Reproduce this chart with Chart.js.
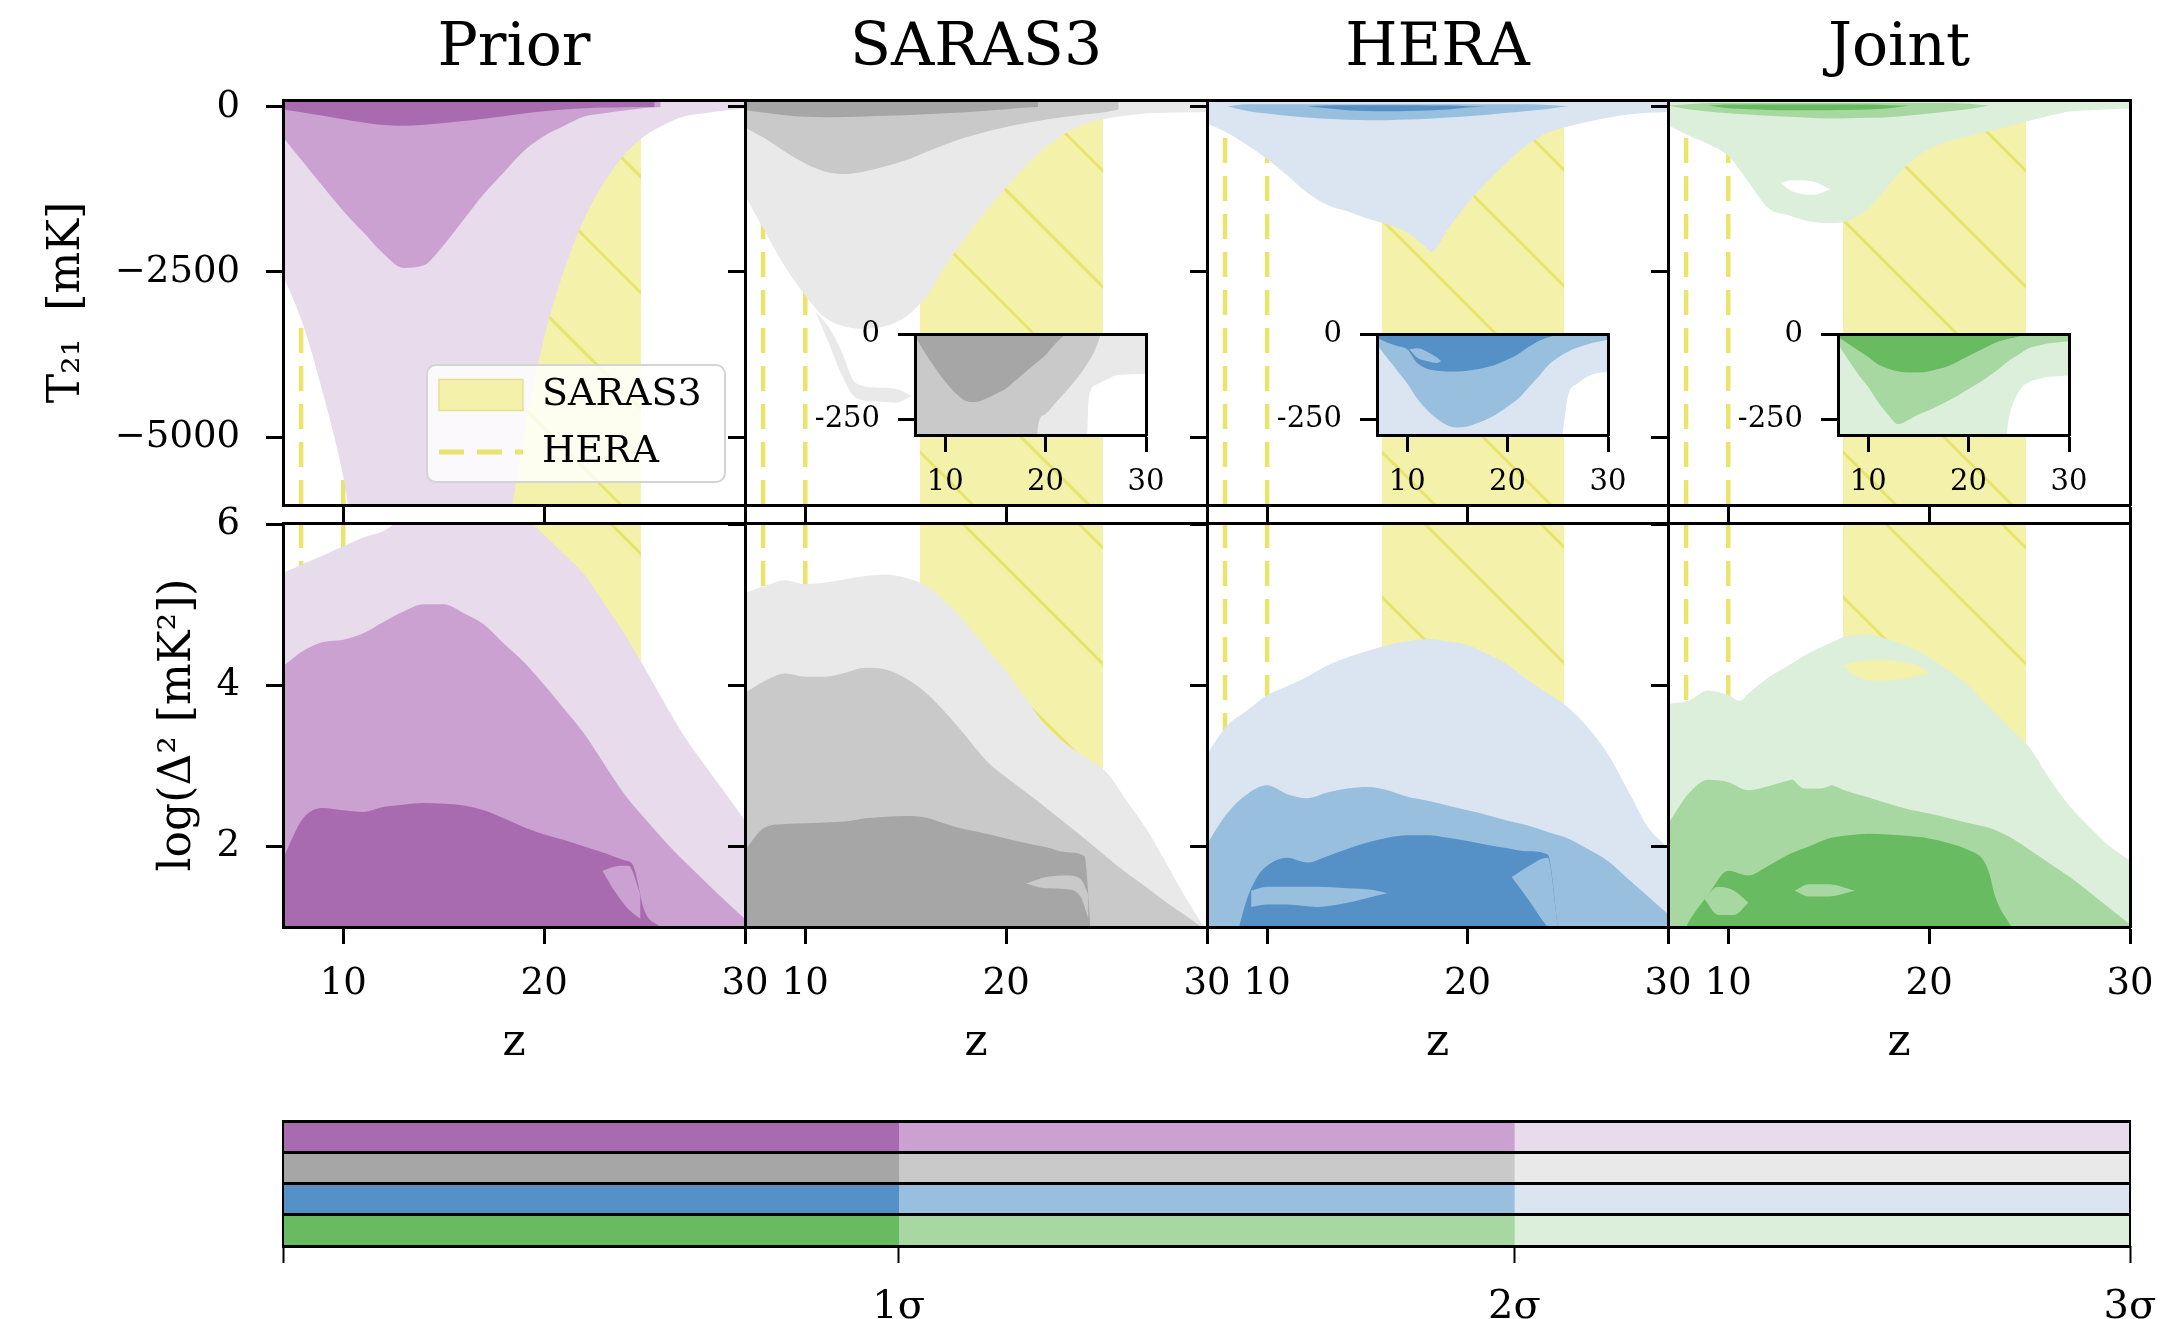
<!DOCTYPE html>
<html>
<head>
<meta charset="utf-8">
<script src="https://cdn.jsdelivr.net/npm/chart.js@4.4.1/dist/chart.umd.min.js"></script>
<style>
  html, body { margin: 0; padding: 0; background: #fff; }
  body { width: 2182px; height: 1319px; position: relative; overflow: hidden; }
  canvas { position: absolute; }
  #legendFrame {
    position: absolute; left: 426px; top: 364px; width: 296px; height: 115px;
    border: 2px solid #d4d4d4; border-radius: 10px; background: rgba(255, 255, 255, 0.82);
  }
</style>
</head>
<body>
<script>
// ---------------- data ----------------
const Z_RANGE = [7, 30];
const Z_TICKS = [10, 20, 30];
const T_RANGE = [-6030, 105];
const T_TICKS = [0, -2500, -5000];
const P_RANGE = [1, 6.02];
const P_TICKS = [2, 4, 6];
const INSET_T_RANGE = [-297, 0];
const INSET_T_TICKS = [0, -250];
const SARAS3_BAND = [15.71, 24.83];
const HERA_Z = [7.9, 10.0];
const PANEL_TITLES = ['Prior', 'SARAS3', 'HERA', 'Joint'];
const SIGMA_TICKS = ['', '1σ', '2σ', '3σ'];
const SIGMA_WIDTH = [1, 1, 1];

// colours: 1σ, 2σ, 3σ
const PRIOR_COLORS = ['#a86bb0', '#caa1d1', '#e8dcec'];
const SARAS3_COLORS = ['#a6a6a6', '#c9c9c9', '#e9e9e9'];
const HERA_COLORS = ['#5590c6', '#98bfde', '#dae5f1'];
const JOINT_COLORS = ['#68bb60', '#a8d8a1', '#dcefdb'];

// T21 contours [z, lower edge] (region runs up to the top of the axis)
const priorT3 = [[7,-2550],[8,-3300],[9,-4350],[10,-5600],[10.5,-6500],[11,-7000],[18,-7000],[18.4,-6100],[19,-4925],[20,-3495],[21,-2470],[22,-1690],[23,-1140],[24,-720],[25,-440],[26,-265],[27,-140],[28,-95],[29,-55],[30,-25]];
const priorT2 = [[7,-460],[8,-835],[9,-1210],[10,-1575],[11,-1900],[12,-2225],[13,-2440],[14,-2400],[15,-2090],[16,-1705],[17,-1320],[18,-990],[19,-665],[20,-440],[21,-285],[22,-145],[23,-95],[24,-55],[25,-15],[25.8,0]];
const priorT1 = [[7,-40],[8,-85],[9,-135],[10,-185],[11,-235],[12,-275],[13,-285],[14,-270],[15,-245],[16,-215],[17,-180],[18,-140],[19,-100],[20,-65],[21,-38],[22,-20],[23,-10],[24,-4],[25.5,0]];

const sarasT3 = [[7,-1340],[8,-1890],[9,-2425],[10,-2855],[11,-3195],[12,-3330],[13,-3360],[14,-3320],[15,-3180],[16,-2880],[17,-2400],[18,-1970],[19,-1570],[20,-1215],[21,-890],[22,-605],[23,-390],[24,-252],[25,-177],[26,-130],[27,-97],[28,-88],[29,-80],[30,-75]];
const sarasT3Tail = [[10.5,-3100,-3100],[11.2,-3350,-3600],[11.8,-3700,-4050],[12.5,-4180,-4400],[13.5,-4250,-4460],[14.5,-4270,-4480],[15.3,-4380,-4380]];
const sarasT2 = [[7,-310],[8,-480],[9,-680],[10,-858],[11,-980],[12,-1015],[13,-975],[14,-900],[15,-808],[16,-685],[17,-565],[18,-460],[19,-375],[20,-303],[21,-245],[22,-190],[23,-150],[24,-110],[25,-75],[25.6,-40]];
const sarasT1 = [[7,-45],[8,-90],[9,-125],[10,-150],[11,-155],[12,-152],[13,-145],[14,-135],[15,-126],[16,-112],[17,-97],[18,-80],[19,-58],[20,-35],[21,-8],[21.6,0]];

const heraT3 = [[7,-252],[8,-390],[9,-575],[10,-790],[11,-1035],[12,-1300],[13,-1485],[14,-1580],[15,-1691],[16,-1780],[17,-1900],[18,-2150],[18.2,-2197],[19,-1860],[20,-1460],[21,-1125],[22,-830],[23,-570],[24,-390],[25,-295],[26,-225],[27,-163],[28,-115],[29,-90],[30,-75]];
// [z, upper, lower]
const heraT2 = [[8,10,10],[9,40,-60],[10,40,-100],[11,40,-135],[12,40,-160],[13,40,-180],[14,40,-195],[15,40,-202],[16,40,-200],[17,40,-192],[18,40,-180],[19,40,-160],[20,40,-140],[21,40,-118],[22,40,-90],[23,40,-60],[24,30,-30],[25,10,10]];
const heraT1 = [[12,10,10],[13,20,-20],[14,25,-50],[15,25,-60],[16,25,-65],[17,25,-62],[18,22,-55],[19,20,-40],[20,10,-10],[21,5,5]];

const jointT3 = [[7,-278],[8,-429],[9,-560],[10,-740],[11,-1136],[12,-1535],[13,-1641],[14,-1730],[15,-1760],[16,-1720],[17,-1530],[18,-1180],[19,-850],[20,-635],[21,-515],[22,-440],[23,-365],[24,-293],[25,-210],[26,-135],[27,-70],[28,-50],[29,-35],[30,-25]];
const jointT3Gap = [[12.6,-1150,-1150],[13.2,-1110,-1280],[14.2,-1130,-1330],[15.1,-1250,-1250]];
const jointT2 = [[7,20,20],[8,40,-35],[9,60,-70],[10,60,-95],[11,60,-115],[12,60,-135],[13,60,-150],[14,60,-165],[15,60,-177],[16,60,-172],[17,60,-165],[18,60,-155],[19,60,-130],[20,60,-100],[21,60,-65],[22,50,-30],[23,20,20]];
const jointT1 = [[9,20,20],[10,36,-20],[11,36,-35],[12,36,-45],[13,36,-50],[14,36,-50],[15,36,-50],[16,36,-48],[17,36,-40],[18,25,-20],[19,20,20]];

// inset T21 contours [z, lower edge]
const sarasI3 = [[7,-400],[24,-400],[24.3,-190],[25,-150],[26,-135],[27,-122],[28,-119],[30,-117]];
const sarasI2 = [[7,-400],[18.9,-400],[19.3,-262],[20,-235],[21,-202],[22,-170],[23,-135],[24,-95],[25,-42],[25.5,0]];
const sarasI1 = [[7,-5],[8,-56],[9,-100],[10,-140],[11,-173],[12,-196],[13,-200],[14,-191],[15,-177],[16,-162],[17,-137],[18,-112],[19,-87],[20,-62],[21,-28],[22,0]];

const heraI3 = [[7,-400],[25,-400],[25.5,-290],[26,-185],[27,-145],[28,-125],[29,-115],[30,-112]];
const heraI2 = [[7,-32],[8,-70],[9,-107],[10,-145],[11,-190],[12,-224],[13,-250],[14,-268],[15,-275],[16,-272],[17,-262],[18,-250],[19,-234],[20,-213],[21,-192],[22,-160],[23,-128],[24,-93],[25,-70],[26,-52],[27,-40],[28,-30],[29,-23],[30,-17]];
const heraI1 = [[7,-12],[8,-25],[9,-35],[10,-45],[11,-85],[12,-102],[13,-108],[14,-110],[15,-110],[16,-108],[17,-104],[18,-97],[19,-88],[20,-75],[21,-60],[22,-40],[23,-22],[24,-10],[25,-3],[26,0]];
const heraI1Gap = [[10.2,-45,-45],[11,-42,-70],[12,-52,-80],[13,-70,-85],[13.4,-80,-80]];

const jointI3 = [[7,-400],[23.3,-400],[24,-250],[25,-170],[26,-142],[27,-132],[28,-126],[29,-124],[30,-122]];
const jointI2 = [[7,-30],[8,-75],[9,-118],[10,-155],[11,-200],[12,-238],[13,-265],[14,-253],[15,-237],[16,-225],[17,-211],[18,-196],[19,-180],[20,-162],[21,-144],[22,-124],[23,-103],[24,-79],[25,-60],[26,-42],[27,-34],[28,-27],[29,-24],[30,-22]];
const jointI1 = [[7,-8],[8,-28],[9,-48],[10,-68],[11,-90],[12,-102],[13,-110],[14,-113],[15,-113],[16,-110],[17,-103],[18,-94],[19,-80],[20,-65],[21,-50],[22,-35],[23,-22],[24,-14],[25,-7],[26,0]];

// power spectrum contours [z, upper edge] (region runs down to the bottom of the axis)
const priorP3 = [[7,5.40],[8,5.51],[9,5.62],[10,5.73],[11,5.84],[12,5.92],[13,6.1],[14,6.3],[15,6.4],[16,6.4],[17,6.35],[18,6.2],[19,6.1],[20,5.87],[21,5.63],[22,5.38],[23,5.01],[24,4.64],[25,4.22],[26,3.78],[27,3.36],[28,3.01],[29,2.67],[30,2.32]];
const priorP2 = [[7,4.24],[8,4.43],[9,4.54],[10,4.57],[11,4.65],[12,4.79],[13,4.92],[14,5.01],[15,5.01],[16,4.9],[17,4.76],[18,4.52],[19,4.29],[20,4.01],[21,3.71],[22,3.40],[23,3.02],[24,2.65],[25,2.35],[26,2.07],[27,1.81],[28,1.57],[29,1.33],[30,1.10]];
const priorP1 = [[7,1.85],[8,2.35],[9,2.48],[10,2.45],[11,2.43],[12,2.49],[13,2.52],[14,2.54],[15,2.53],[16,2.51],[17,2.45],[18,2.35],[19,2.24],[20,2.15],[21,2.08],[22,2.0],[23,1.92],[24,1.83],[24.4,1.78],[25,1.2],[25.8,1.0]];
const priorP1Gap = [[22.9,1.70,1.70],[23.5,1.75,1.45],[24.2,1.76,1.22],[24.8,1.4,1.1]];

const sarasP3 = [[7,5.15],[8,5.24],[9,5.31],[10,5.26],[11,5.28],[12,5.32],[13,5.36],[14,5.38],[15,5.34],[16,5.24],[17,5.04],[18,4.77],[19,4.47],[20,4.18],[21,3.83],[22,3.49],[23,3.27],[24,3.1],[25,2.92],[26,2.57],[27,2.21],[28,1.78],[29,1.34],[30,0.95]];
const sarasP2 = [[7,3.91],[8,4.06],[9,4.15],[10,4.11],[11,4.11],[12,4.16],[13,4.22],[14,4.2],[15,4.09],[16,3.91],[17,3.66],[18,3.37],[19,3.07],[20,2.86],[21,2.67],[22,2.48],[23,2.28],[24,2.08],[25,1.87],[26,1.67],[27,1.49],[28,1.3],[29,1.13],[30,0.95]];
const sarasP1 = [[7,1.96],[8,2.24],[9,2.28],[10,2.29],[11,2.3],[12,2.31],[13,2.35],[14,2.37],[15,2.38],[16,2.36],[17,2.28],[18,2.21],[19,2.16],[20,2.1],[21,2.04],[22,1.99],[23,1.93],[23.9,1.88],[24.2,1.0]];
const sarasP1Gap = [[21.0,1.54,1.54],[22,1.62,1.48],[23,1.64,1.47],[23.7,1.6,1.38],[24.1,1.4,1.1]];

const heraP3 = [[7,3.15],[8,3.5],[9,3.69],[10,3.88],[11,3.99],[12,4.11],[13,4.25],[14,4.35],[15,4.43],[16,4.5],[17,4.55],[18,4.58],[19,4.55],[20,4.5],[21,4.39],[22,4.26],[23,4.07],[24,3.9],[25,3.73],[26,3.48],[27,3.15],[28,2.7],[29,2.24],[30,1.99]];
const heraP2 = [[7,2.03],[8,2.41],[9,2.65],[10,2.76],[11,2.65],[12,2.6],[13,2.67],[14,2.72],[15,2.74],[16,2.7],[17,2.62],[18,2.57],[19,2.51],[20,2.45],[21,2.39],[22,2.32],[23,2.26],[24,2.18],[25,2.1],[26,1.97],[27,1.82],[28,1.6],[29,1.38],[30,1.16]];
const heraP1 = [[8.6,1.0],[9,1.35],[9.5,1.62],[10,1.76],[11,1.86],[12,1.8],[13,1.88],[14,1.97],[15,2.05],[16,2.11],[17,2.14],[18,2.14],[19,2.11],[20,2.07],[21,2.02],[22,1.98],[23,1.94],[24,1.9],[24.5,1.0]];
const heraP1Notch = [[22.2,1.62,1.62],[23,1.75,1.35],[24,1.86,1.0],[24.5,1.0,0.9]];
const heraP1Tongue = [[9.2,1.45,1.25],[10,1.5,1.28],[11,1.5,1.28],[12.5,1.5,1.25],[14,1.48,1.3],[15.3,1.46,1.38],[16,1.42,1.42]];

const jointP3 = [[7,3.77],[8,3.81],[9,3.94],[10,3.88],[10.6,3.81],[11,3.9],[12,4.1],[13,4.25],[14,4.4],[15,4.52],[16,4.62],[17,4.63],[18,4.57],[19,4.48],[20,4.35],[21,4.18],[22,3.99],[23,3.73],[24,3.48],[25,3.23],[26,2.84],[27,2.5],[28,2.24],[29,2.0],[30,1.83]];
const jointP3Gap = [[15.7,4.25,4.25],[16.5,4.3,4.1],[17.5,4.32,4.06],[18.5,4.3,4.08],[19.5,4.24,4.12],[20,4.15,4.15]];
const jointP2 = [[7,2.28],[8,2.65],[9,2.83],[10,2.8],[11,2.7],[12,2.75],[13,2.82],[14,2.86],[15,2.78],[16,2.68],[17,2.61],[18,2.53],[19,2.46],[20,2.41],[21,2.35],[22,2.29],[23,2.23],[24,2.12],[25,1.96],[26,1.79],[27,1.62],[28,1.43],[29,1.23],[30,1.03]];
const jointP2Gap = [[13.1,2.86,2.86],[13.8,2.95,2.72],[14.6,2.93,2.72],[15.3,2.78,2.78]];
const jointP1 = [[7.9,1.0],[8,1.05],[9,1.4],[10,1.7],[11,1.64],[12,1.76],[13,1.9],[14,2.0],[15,2.1],[16,2.14],[17,2.16],[18,2.15],[19,2.13],[20,2.1],[21,2.04],[22,1.95],[22.7,1.83],[23,1.66],[23.3,1.37],[24.1,1.0]];
const jointP1Blob = [[8.8,1.35,1.35],[9.5,1.5,1.15],[10.3,1.45,1.15],[11.0,1.3,1.3]];
const jointP1Oval = [[13.3,1.45,1.45],[14,1.53,1.38],[15,1.53,1.38],[16.3,1.45,1.45]];

// ---------------- style ----------------
const FONT = 'DejaVu Serif';
const INK = '#000';
const BAND_FILL = '#f4f1aa';
const BAND_HATCH = '#e8e36a';
const HERA_DASH = '#ebe46c';

const COL_LEFT = [283, 745, 1207, 1668];
const COL_W = [462, 462, 461, 462];
const ROW_TOP = [100, 523];
const ROW_H = [405, 404];

function hatchPattern() {
  const s = 116;
  const c = document.createElement('canvas');
  c.width = c.height = s;
  const g = c.getContext('2d');
  g.fillStyle = BAND_FILL;
  g.fillRect(0, 0, s, s);
  g.strokeStyle = BAND_HATCH;
  g.lineWidth = 3;
  for (const off of [-s, 0, s]) {
    g.beginPath();
    g.moveTo(off - 2, -2);
    g.lineTo(off + s + 2, s + 2);
    g.stroke();
  }
  return g.createPattern(c, 'repeat');
}
const HATCH = hatchPattern();

function xy(list) { return list.map(([x, y]) => ({ x, y })); }

// one contour level -> datasets
function region(kind, list, color, order) {
  const base = { borderWidth: 0, pointRadius: 0, backgroundColor: color, order, cubicInterpolationMode: 'monotone' };
  if (kind === 'between') {
    return [
      { ...base, data: list.map(([x, u]) => ({ x, y: u })), fill: '+1' },
      { ...base, data: list.map(([x, , l]) => ({ x, y: l })), fill: false }
    ];
  }
  return [{ ...base, data: xy(list), fill: kind === 'top' ? 'end' : 'start' }];
}

function backdrop(yr) {
  const sets = [{
    data: [{ x: SARAS3_BAND[0], y: yr[1] }, { x: SARAS3_BAND[1], y: yr[1] }],
    fill: 'start', backgroundColor: HATCH, borderWidth: 0, pointRadius: 0, order: 100
  }];
  HERA_Z.forEach(z => sets.push({
    data: [{ x: z, y: yr[1] }, { x: z, y: yr[0] }],
    fill: false, borderColor: HERA_DASH, borderWidth: 4.5, borderDash: [25, 13],
    borderCapStyle: 'butt', pointRadius: 0, order: 90
  }));
  return sets;
}

function fixSize(prop, val) {
  return s => {
    s[prop] = val;
    s.paddingTop = s.paddingBottom = s.paddingLeft = s.paddingRight = 0;
  };
}

const whiteArea = {
  id: 'whiteArea',
  beforeDatasetsDraw(chart) {
    const { ctx, chartArea: a } = chart;
    ctx.save();
    ctx.fillStyle = '#fff';
    ctx.fillRect(a.left, a.top, a.right - a.left, a.bottom - a.top);
    ctx.restore();
  }
};

function makeCanvas(left, top, width, height) {
  const c = document.createElement('canvas');
  c.width = width; c.height = height;
  c.style.left = left + 'px'; c.style.top = top + 'px';
  c.style.width = width + 'px'; c.style.height = height + 'px';
  document.body.appendChild(c);
  return c;
}

function plotPanel(p) {
  const { area, m } = p;
  const cv = makeCanvas(area.left - m.l, area.top - m.t, m.l + area.w + m.r, m.t + area.h + m.b);
  const tickFont = { family: FONT, size: p.tickSize };
  return new Chart(cv, {
    type: 'line',
    data: { datasets: p.datasets },
    options: {
      responsive: false, animation: false, events: [], devicePixelRatio: 1,
      layout: { padding: 0, autoPadding: false },
      plugins: { legend: { display: false }, tooltip: { enabled: false } },
      scales: {
        x: {
          type: 'linear', position: 'bottom', min: Z_RANGE[0], max: Z_RANGE[1],
          afterBuildTicks: s => { s.ticks = Z_TICKS.map(v => ({ value: v })); },
          afterFit: fixSize('height', m.b),
          ticks: { display: p.xLabels, color: INK, font: tickFont, padding: p.xPad, maxRotation: 0, autoSkip: false },
          grid: { display: true, drawOnChartArea: false, drawTicks: true, tickLength: 17, tickWidth: 3, tickColor: INK },
          border: { display: true, color: INK, width: 3, z: 1 },
          title: { display: !!p.xTitle, text: p.xTitle || '', color: INK, font: { family: FONT, size: 44 }, padding: { top: 0, bottom: 17 } }
        },
        xTop: {
          type: 'linear', position: 'top', min: Z_RANGE[0], max: Z_RANGE[1],
          afterFit: fixSize('height', m.t),
          ticks: { display: false }, grid: { display: false },
          border: { display: true, color: INK, width: 3, z: 1 },
          title: { display: !!p.title, text: p.title || '', color: INK, font: { family: FONT, size: 60 }, padding: { top: 13, bottom: 0 } }
        },
        y: {
          type: 'linear', position: 'left', min: p.yr[0], max: p.yr[1],
          afterBuildTicks: s => { s.ticks = p.yTicks.map(v => ({ value: v })); },
          afterFit: fixSize('width', m.l),
          ticks: { display: p.yLabels, color: INK, font: tickFont, padding: p.yPad, callback: p.yFmt },
          grid: { display: true, drawOnChartArea: false, drawTicks: true, tickLength: 17, tickWidth: 3, tickColor: INK },
          border: { display: true, color: INK, width: 3, z: 1 },
          title: { display: !!p.yTitle, text: p.yTitle || '', color: INK, font: { family: FONT, size: 44 }, padding: { top: p.yTitlePad || 0, bottom: 0 } }
        },
        yRight: {
          type: 'linear', position: 'right',
          afterFit: fixSize('width', m.r),
          ticks: { display: false }, grid: { display: false },
          border: { display: true, color: INK, width: 3, z: 1 }
        }
      }
    },
    plugins: p.white ? [whiteArea] : []
  });
}

const minusFmt = v => (v < 0 ? '\u2212' + Math.abs(v) : String(v));
const hyphenFmt = v => String(v);

// ---------------- panels ----------------
const topLayers = [
  [region('top', priorT3, PRIOR_COLORS[2], 30), region('top', priorT2, PRIOR_COLORS[1], 20), region('top', priorT1, PRIOR_COLORS[0], 10)],
  [region('top', sarasT3, SARAS3_COLORS[2], 30), region('between', sarasT3Tail, SARAS3_COLORS[2], 30),
   region('top', sarasT2, SARAS3_COLORS[1], 20), region('top', sarasT1, SARAS3_COLORS[0], 10)],
  [region('top', heraT3, HERA_COLORS[2], 30), region('between', heraT2, HERA_COLORS[1], 20), region('between', heraT1, HERA_COLORS[0], 10)],
  [region('top', jointT3, JOINT_COLORS[2], 30), region('between', jointT3Gap, '#ffffff', 25),
   region('between', jointT2, JOINT_COLORS[1], 20), region('between', jointT1, JOINT_COLORS[0], 10)]
];
const bottomLayers = [
  [region('bottom', priorP3, PRIOR_COLORS[2], 30), region('bottom', priorP2, PRIOR_COLORS[1], 20),
   region('bottom', priorP1, PRIOR_COLORS[0], 10), region('between', priorP1Gap, PRIOR_COLORS[1], 5)],
  [region('bottom', sarasP3, SARAS3_COLORS[2], 30), region('bottom', sarasP2, SARAS3_COLORS[1], 20),
   region('bottom', sarasP1, SARAS3_COLORS[0], 10), region('between', sarasP1Gap, SARAS3_COLORS[1], 5)],
  [region('bottom', heraP3, HERA_COLORS[2], 30), region('bottom', heraP2, HERA_COLORS[1], 20),
   region('bottom', heraP1, HERA_COLORS[0], 10), region('between', heraP1Notch, HERA_COLORS[1], 5),
   region('between', heraP1Tongue, HERA_COLORS[1], 5)],
  [region('bottom', jointP3, JOINT_COLORS[2], 30), region('between', jointP3Gap, BAND_FILL, 25),
   region('bottom', jointP2, JOINT_COLORS[1], 20), region('between', jointP2Gap, JOINT_COLORS[2], 15),
   region('bottom', jointP1, JOINT_COLORS[0], 10), region('between', jointP1Blob, JOINT_COLORS[1], 5),
   region('between', jointP1Oval, JOINT_COLORS[1], 5)]
];
const insetLayers = [
  null,
  [region('top', sarasI3, SARAS3_COLORS[2], 30), region('top', sarasI2, SARAS3_COLORS[1], 20), region('top', sarasI1, SARAS3_COLORS[0], 10)],
  [region('top', heraI3, HERA_COLORS[2], 30), region('top', heraI2, HERA_COLORS[1], 20), region('top', heraI1, HERA_COLORS[0], 10),
   region('between', heraI1Gap, HERA_COLORS[1], 5)],
  [region('top', jointI3, JOINT_COLORS[2], 30), region('top', jointI2, JOINT_COLORS[1], 20), region('top', jointI1, JOINT_COLORS[0], 10)]
];

for (let k = 0; k < 4; k++) {
  plotPanel({
    area: { left: COL_LEFT[k], top: ROW_TOP[0], w: COL_W[k], h: ROW_H[0] },
    m: { l: k === 0 ? 283 : 45, t: 100, r: 45, b: 18 },
    yr: T_RANGE, yTicks: T_TICKS, yFmt: minusFmt, yLabels: k === 0, yPad: 26,
    xLabels: false, xPad: 18, tickSize: 37,
    title: PANEL_TITLES[k],
    yTitle: k === 0 ? 'T\u2082\u2081  [mK]' : '', yTitlePad: 41,
    datasets: [...backdrop(T_RANGE), ...topLayers[k].flat()]
  });
}
for (let k = 0; k < 4; k++) {
  plotPanel({
    area: { left: COL_LEFT[k], top: ROW_TOP[1], w: COL_W[k], h: ROW_H[1] },
    m: { l: k === 0 ? 283 : 45, t: 30, r: 45, b: 160 },
    yr: P_RANGE, yTicks: P_TICKS, yFmt: minusFmt, yLabels: k === 0, yPad: 26,
    xLabels: true, xPad: 18, tickSize: 37,
    xTitle: 'z',
    yTitle: k === 0 ? 'log(\u0394\u00b2 [mK\u00b2])' : '', yTitlePad: 152,
    datasets: [...backdrop(P_RANGE), ...bottomLayers[k].flat()]
  });
}
for (let k = 1; k < 4; k++) {
  plotPanel({
    area: { left: COL_LEFT[k] + 170, top: 334, w: 231, h: 101 },
    m: { l: 100, t: 20, r: 35, b: 70 },
    yr: INSET_T_RANGE, yTicks: INSET_T_TICKS, yFmt: hyphenFmt, yLabels: true, yPad: 18,
    xLabels: true, xPad: 13, tickSize: 29,
    white: true,
    datasets: insetLayers[k].flat()
  });
}

// ---------------- legend ----------------
const frame = document.createElement('div');
frame.id = 'legendFrame';
document.body.appendChild(frame);
const legendCanvas = makeCanvas(420, 357, 300, 122);
new Chart(legendCanvas, {
  type: 'line',
  data: { datasets: [{ label: 'SARAS3', data: [] }, { label: 'HERA', data: [] }] },
  options: {
    responsive: false, animation: false, events: [], devicePixelRatio: 1,
    layout: { padding: 0 },
    scales: { x: { display: false }, y: { display: false } },
    plugins: {
      tooltip: { enabled: false },
      legend: {
        display: true, position: 'top', align: 'start', maxHeight: 122,
        labels: {
          usePointStyle: true, pointStyleWidth: 84, boxHeight: 31, padding: 19,
          color: INK, font: { family: FONT, size: 38 },
          generateLabels: () => [
            { text: 'SARAS3', fillStyle: BAND_FILL, strokeStyle: '#e4df95', lineWidth: 1.5, pointStyle: 'rect', hidden: false, datasetIndex: 0 },
            { text: 'HERA', fillStyle: 'rgba(0,0,0,0)', strokeStyle: HERA_DASH, lineWidth: 5, lineDash: [25, 13], pointStyle: 'line', hidden: false, datasetIndex: 1 }
          ]
        }
      }
    }
  }
});

// ---------------- sigma colour bar ----------------
const ROW_COLORS = [PRIOR_COLORS, SARAS3_COLORS, HERA_COLORS, JOINT_COLORS];
const cbCanvas = makeCanvas(243, 1101, 1927, 218);
new Chart(cbCanvas, {
  type: 'bar',
  data: {
    labels: PANEL_TITLES,
    datasets: SIGMA_WIDTH.map((w, lvl) => ({
      data: PANEL_TITLES.map(() => w),
      backgroundColor: ROW_COLORS.map(c => c[lvl]),
      borderWidth: 0, barPercentage: 1, categoryPercentage: 1
    }))
  },
  options: {
    indexAxis: 'y',
    responsive: false, animation: false, events: [], devicePixelRatio: 1,
    layout: { padding: { top: 20, left: 0, right: 0, bottom: 0 }, autoPadding: false },
    plugins: { legend: { display: false }, tooltip: { enabled: false } },
    scales: {
      x: {
        type: 'linear', stacked: true, min: 0, max: 3,
        afterBuildTicks: s => { s.ticks = [0, 1, 2, 3].map(v => ({ value: v })); },
        afterFit: fixSize('height', 73),
        ticks: { callback: v => SIGMA_TICKS[v], color: INK, font: { family: FONT, size: 40 }, padding: 21, maxRotation: 0, autoSkip: false },
        grid: { display: true, drawOnChartArea: false, drawTicks: true, tickLength: 17, tickWidth: 2, tickColor: INK },
        border: { display: false }
      },
      y: {
        type: 'category', stacked: true,
        afterFit: fixSize('width', 40),
        ticks: { display: false },
        grid: { display: true, offset: true, drawTicks: false, color: INK, lineWidth: 3, z: 1 },
        border: { display: true, color: INK, width: 2, z: 1 }
      },
      yRight: {
        type: 'linear', position: 'right',
        afterFit: fixSize('width', 40),
        ticks: { display: false }, grid: { display: false },
        border: { display: true, color: INK, width: 2, z: 1 }
      }
    }
  }
});
</script>
</body>
</html>
